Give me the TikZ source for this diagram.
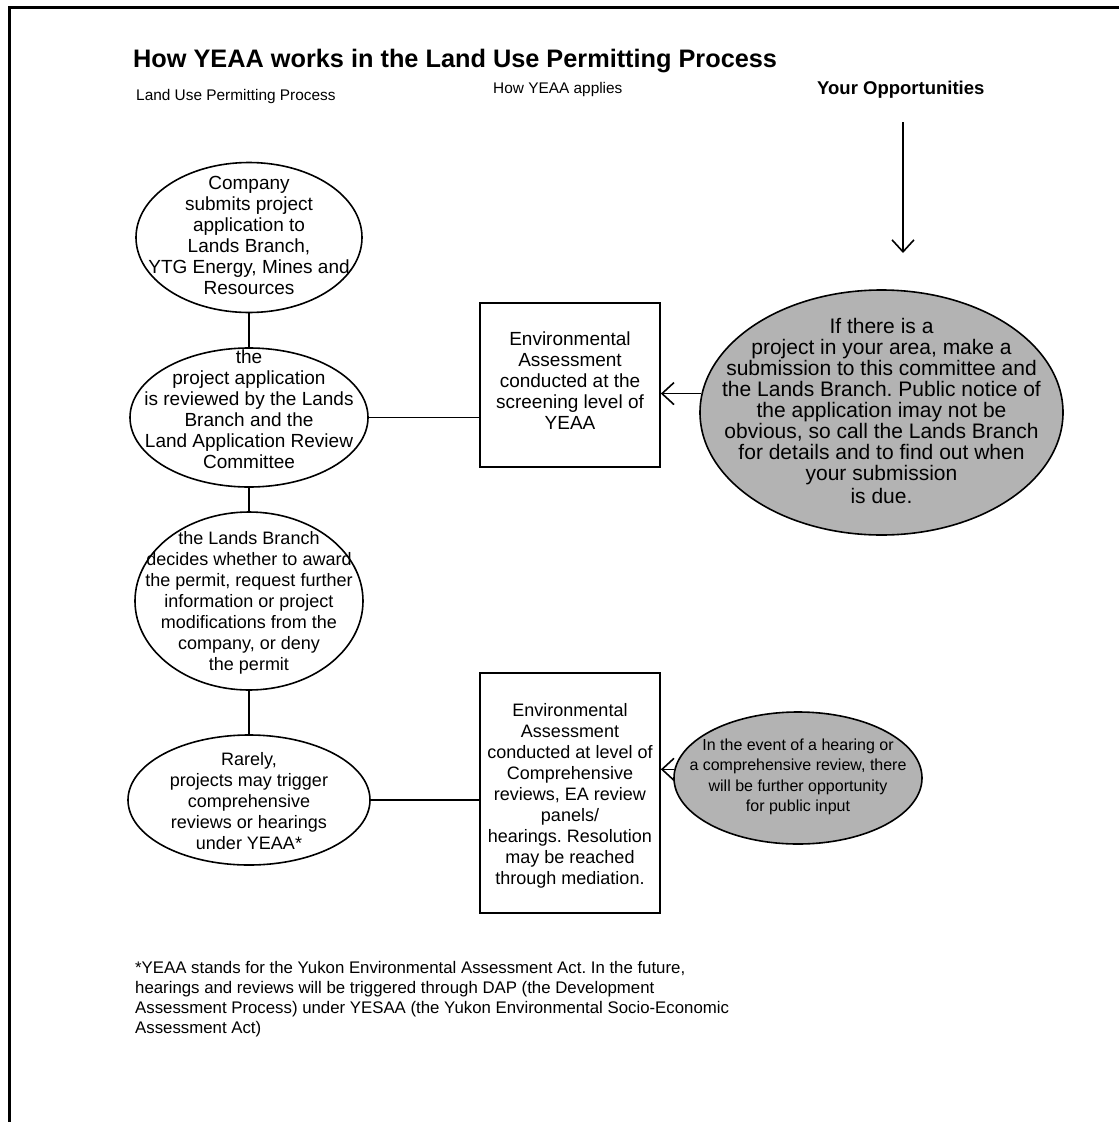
\documentclass[tikz,border=0pt]{standalone}
\usepackage{fontspec}
\setmainfont{Liberation Sans}
\usetikzlibrary{shapes.geometric,arrows.meta}
\definecolor{oppgray}{RGB}{179,179,179}
\frenchspacing

\begin{document}
\begin{tikzpicture}[x=1pt,y=-1pt,
  txt/.style={align=center, inner sep=0pt, font=\fontsize{#1}{21}\selectfont},
  txt/.default=18,
  stage/.style={ellipse, draw, line width=1.6pt, inner sep=0pt},
  eabox/.style={rectangle, draw, line width=1.6pt, inner sep=0pt},
  opp/.style={ellipse, draw, fill=oppgray, line width=1.6pt, inner sep=0pt},
  link/.style={line width=1.6pt},
  pointer/.style={line width=1.6pt, -{Straight Barb[length=12pt,width=22pt,line width=1.6pt]}},
  heading/.style={inner sep=0pt, anchor=base west, font=\fontsize{15.4}{18}\selectfont}
]
\useasboundingbox (0,0) rectangle (1119,1122);

% page frame (only top and left sides fall on the page)
\draw[line width=3pt] (9,1122) -- (9,7) -- (1119,7);

% title and column headings
\node[inner sep=0pt, anchor=base west, font=\fontsize{25.3}{30}\bfseries] (title) at (133,67)
  {How YEAA works in the Land Use Permitting Process};
\node[heading] (colA) at (136,100.5) {Land Use Permitting Process};
\node[heading] (colB) at (493,93.5) {How YEAA applies};
\node[heading, font=\fontsize{18.5}{20}\bfseries] (colC) at (817,94) {Your Opportunities};

% permitting process column
\node[stage, minimum width=226pt, minimum height=150pt] (e1) at (249,237.5) {};
\node[txt=19] (e1t) at (249,235) {Company\\submits project\\application to\\Lands Branch,\\YTG Energy, Mines and\\Resources};

\node[stage, minimum width=238pt, minimum height=139pt] (e2) at (249,417.5) {};
\node[txt=19] (e2t) at (249,409) {the\\project application\\is reviewed by the Lands\\Branch and the\\Land Application Review\\Committee};

\node[stage, minimum width=228pt, minimum height=178pt] (e3) at (249,601) {};
\node[txt] (e3t) at (249,603) {the Lands Branch\\decides whether to award\\the permit, request further\\information or project\\modifications from the\\company, or deny\\the permit};

\node[stage, minimum width=242pt, minimum height=130pt] (e4) at (249,800) {};
\node[txt] (e4t) at (249,801) {Rarely,\\projects may trigger\\comprehensive\\reviews or hearings\\under YEAA*};

% how YEAA applies column
\node[eabox, minimum width=180pt, minimum height=164pt] (b1) at (570,385) {};
\node[txt=19] (b1t) at (570,381) {Environmental\\Assessment\\conducted at the\\screening level of\\YEAA};

\node[eabox, minimum width=180pt, minimum height=240pt] (b2) at (570,793) {};
\node[txt] (b2t) at (570,796) {Environmental\\Assessment\\conducted at level of\\Comprehensive\\reviews, EA review\\panels/\\hearings. Resolution\\may be reached\\through mediation.};

% opportunities column
\node[opp, minimum width=363pt, minimum height=245pt] (g1) at (881.5,412.5) {};
\node[txt=21] (g1t) at (881.5,411) {If there is a\\project in your area, make a\\submission to this committee and\\the Lands Branch. Public notice of\\the application imay not be\\obvious, so call the Lands Branch\\for details and to find out when\\your submission\\[2pt]is due.};

\node[opp, minimum width=248pt, minimum height=132pt] (g2) at (798,778) {};
\node[align=center, inner sep=0pt, font=\fontsize{16}{20.5}\selectfont] (g2t) at (798,777) {In the event of a hearing or\\a comprehensive review, there\\will be further opportunity\\for public input};

\coordinate (entry) at (903,122);
\coordinate (entryTip) at (903,253);

% connectors
\draw[link] (e1.south) -- (e2.north);
\draw[link] (e2.south) -- (e3.north);
\draw[link] (e3.south) -- (e4.north);
\draw[link] (e2.east) -- (e2.east -| b1.west);
\draw[link] (e4.east) -- (e4.east -| b2.west);
\draw[pointer] (g1.174) -- (g1.174 -| b1.east);
\draw[pointer] (g2.176) -- (g2.176 -| b2.east);
\draw[pointer] (entry) -- (entryTip);

% footnote
\node[inner sep=0pt, anchor=north west, align=left, font=\fontsize{16.8}{20}\selectfont] (note) at (135,961)
  {*YEAA stands for the Yukon Environmental Assessment Act. In the future,\\hearings and reviews will be triggered through DAP (the Development\\Assessment Process) under YESAA (the Yukon Environmental Socio-Economic\\Assessment Act)};
\end{tikzpicture}
\end{document}
